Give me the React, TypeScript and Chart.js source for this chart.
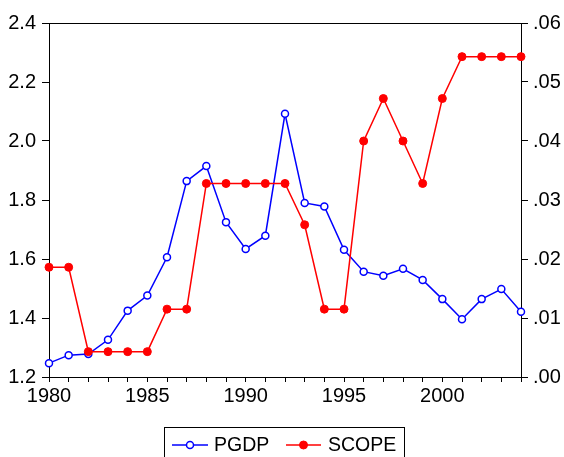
import React, { useEffect, useRef } from "react";
import { Chart, registerables } from "chart.js";

Chart.register(...registerables);

const years = [1980, 1981, 1982, 1983, 1984, 1985, 1986, 1987, 1988, 1989, 1990, 1991, 1992, 1993, 1994, 1995, 1996, 1997, 1998, 1999, 2000, 2001, 2002, 2003, 2004];
const pgdp = [1.247, 1.274, 1.278, 1.326, 1.425, 1.476, 1.606, 1.864, 1.915, 1.725, 1.634, 1.679, 2.092, 1.79, 1.778, 1.631, 1.557, 1.543, 1.567, 1.529, 1.464, 1.396, 1.464, 1.498, 1.421];
const scope = [0.0186, 0.0186, 0.0043, 0.0043, 0.0043, 0.0043, 0.0115, 0.0115, 0.0328, 0.0328, 0.0328, 0.0328, 0.0328, 0.0258, 0.0115, 0.0115, 0.04, 0.0472, 0.04, 0.0328, 0.0472, 0.0543, 0.0543, 0.0543, 0.0543];
const leftTicks = { min: 1.2, max: 2.4, step: 0.2 };
const rightTicks = { min: 0, max: 0.06, step: 0.01 };

const FONT = "'Liberation Sans', Arial, Helvetica, sans-serif";
const BLUE = "#0000FF";
const RED = "#FF0000";

const framePlugin = {
  id: "frame",
  afterDraw(chart: any) {
    const { ctx, chartArea } = chart;
    ctx.save();
    ctx.strokeStyle = "#000";
    ctx.lineWidth = 1;
    ctx.beginPath();
    ctx.moveTo(Math.round(chartArea.left) + 0.5, Math.round(chartArea.top) + 0.5);
    ctx.lineTo(Math.round(chartArea.right) + 0.5, Math.round(chartArea.top) + 0.5);
    ctx.stroke();

    // legend box
    const bx = 164.5, by = 427.5, bw = 240, bh = 40;
    ctx.strokeRect(bx, by, bw, bh);
    const cy = 445;
    const items = chart.data.datasets.map((d: any) => d);
    const layout = [
      { x0: 172, x1: 208, tx: 214 },
      { x0: 286, x1: 321, tx: 328 },
    ];
    items.forEach((d: any, i: number) => {
      const l = layout[i];
      ctx.strokeStyle = d.borderColor;
      ctx.lineWidth = 1.5;
      ctx.beginPath();
      ctx.moveTo(l.x0, cy);
      ctx.lineTo(l.x1, cy);
      ctx.stroke();
      const mx = (l.x0 + l.x1) / 2;
      ctx.beginPath();
      ctx.arc(mx, cy, d.pointRadius, 0, Math.PI * 2);
      ctx.fillStyle = d.pointBackgroundColor;
      ctx.fill();
      ctx.lineWidth = d.pointBorderWidth;
      ctx.strokeStyle = d.pointBorderColor;
      ctx.stroke();
      ctx.fillStyle = "#000";
      ctx.font = `19.5px ${FONT}`;
      ctx.textBaseline = "middle";
      ctx.textAlign = "left";
      ctx.fillText(d.label, l.tx, cy + 1);
    });
    ctx.restore();
  },
};

export default function App() {
  const ref = useRef<HTMLCanvasElement>(null);
  useEffect(() => {
    if (!ref.current) return;
    const chart = new Chart(ref.current, {
      type: "line",
      data: {
        labels: years.map(String),
        datasets: [
          {
            label: "PGDP",
            data: pgdp,
            yAxisID: "y",
            borderColor: BLUE,
            borderWidth: 1.5,
            pointRadius: 3.5,
            pointBackgroundColor: "#FFFFFF",
            pointBorderColor: BLUE,
            pointBorderWidth: 1.5,
            tension: 0,
            clip: false,
            order: 1,
          } as any,
          {
            label: "SCOPE",
            data: scope,
            yAxisID: "y1",
            borderColor: RED,
            borderWidth: 1.5,
            pointRadius: 4,
            pointBackgroundColor: RED,
            pointBorderColor: RED,
            pointBorderWidth: 1,
            tension: 0,
            clip: false,
            order: 0,
          } as any,
        ],
      },
      options: {
        animation: false,
        responsive: false,
        devicePixelRatio: 1,
        layout: { padding: { top: 23, left: 0, right: 0, bottom: 0 } },
        plugins: { legend: { display: false }, tooltip: { enabled: false } },
        events: [],
        scales: {
          x: {
            type: "category",
            offset: false,
            grid: { drawOnChartArea: false, drawTicks: true, tickLength: 5, color: "#000" },
            border: { color: "#000", width: 1 },
            ticks: {
              autoSkip: false,
              maxRotation: 0,
              padding: 2,
              color: "#000",
              font: { family: FONT, size: 20 },
              callback: (_v: any, i: number) => (years[i] % 5 === 0 ? String(years[i]) : ""),
            },
            afterFit: (s: any) => {
              s.height = 80;
            },
          },
          y: {
            position: "left",
            min: leftTicks.min,
            max: leftTicks.max,
            grid: { drawOnChartArea: false, drawTicks: true, tickLength: 7, color: "#000" },
            border: { color: "#000", width: 1 },
            ticks: {
              stepSize: leftTicks.step,
              padding: 6,
              color: "#000",
              font: { family: FONT, size: 20 },
              callback: (v: any) => Number(v).toFixed(1),
            },
            afterFit: (s: any) => {
              s.width = 49;
            },
          },
          y1: {
            position: "right",
            min: rightTicks.min,
            max: rightTicks.max,
            grid: { drawOnChartArea: false, drawTicks: true, tickLength: 7, color: "#000" },
            border: { color: "#000", width: 1 },
            ticks: {
              stepSize: rightTicks.step,
              padding: 5,
              color: "#000",
              font: { family: FONT, size: 20 },
              callback: (v: any) => Number(v).toFixed(2).replace(/^0/, ""),
            },
            afterFit: (s: any) => {
              s.width = 43;
            },
          },
        },
      },
      plugins: [framePlugin],
    });
    return () => chart.destroy();
  }, []);
  return (
    <div style={{ position: "absolute", left: 0, top: 0, width: 564, height: 457, background: "#fff" }}>
      <canvas ref={ref} width={564} height={457} style={{ width: 564, height: 457, display: "block" }} />
    </div>
  );
}
